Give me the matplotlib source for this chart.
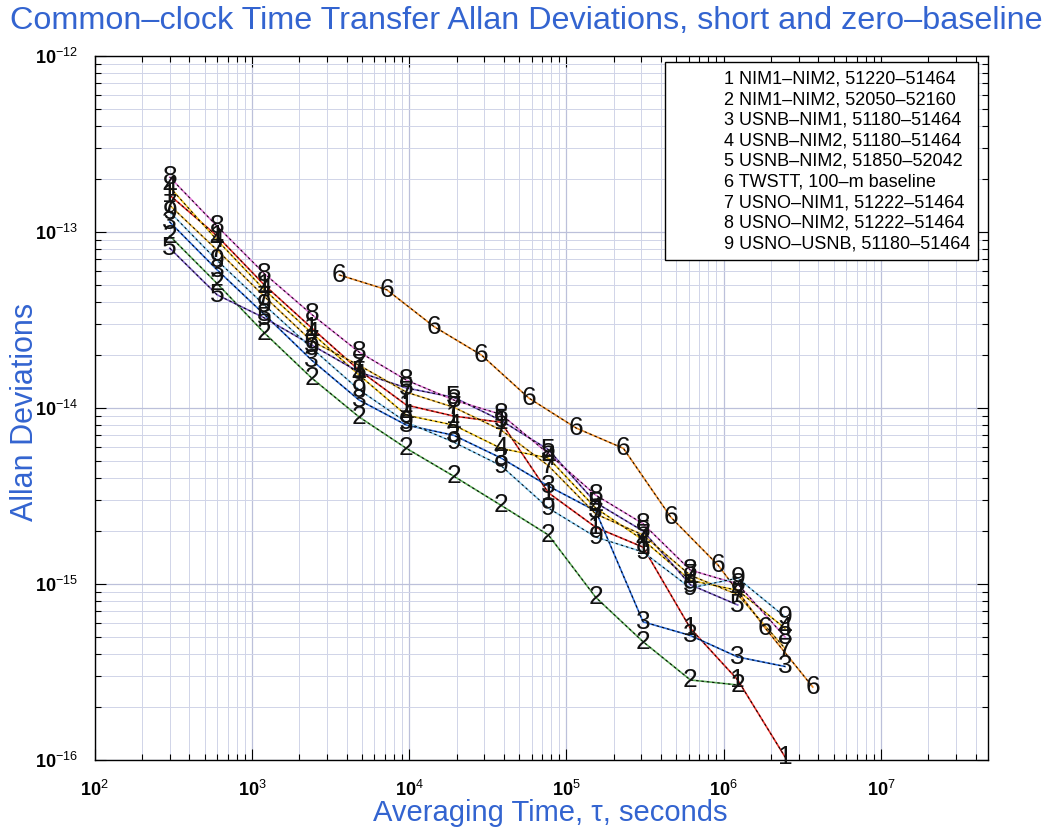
#
# Common-clock time transfer Allan deviations, short and zero-baseline
#
import matplotlib

matplotlib.use("Agg")
import matplotlib.pyplot as plt
import numpy as np
from matplotlib.lines import Line2D
from matplotlib.ticker import LogLocator, NullFormatter

plt.rcParams["font.family"] = ["Liberation Sans", "DejaVu Sans"]
plt.rcParams["mathtext.fontset"] = "custom"
plt.rcParams["mathtext.rm"] = "Liberation Sans"
plt.rcParams["mathtext.bf"] = "Liberation Sans:bold"

# averaging times, seconds
tau_gps = [300, 600, 1200, 2400, 4800, 9600, 19200, 38400, 76800,
           153600, 307200, 614400, 1228800, 2457600]
tau_twstt = [3600, 7200, 14400, 28800, 57600, 115200, 230400, 460800,
             921600, 1843200, 3686400]

# Allan deviations
adev_1 = [1.62e-13, 9.5e-14, 5.0e-14, 2.85e-14, 1.64e-14, 1.04e-14, 9.0e-15,
          8.3e-15, 3.3e-15, 2.1e-15, 1.62e-15, 5.6e-16, 2.85e-16, 1.04e-16]
adev_2 = [9.5e-14, 5.1e-14, 2.67e-14, 1.48e-14, 8.9e-15, 5.9e-15, 4.1e-15,
          2.8e-15, 1.9e-15, 8.4e-16, 4.7e-16, 2.85e-16, 2.67e-16]
adev_3 = [1.14e-13, 6.1e-14, 3.4e-14, 1.87e-14, 1.11e-14, 8.0e-15, 7.0e-15,
          5.2e-15, 3.6e-15, 2.6e-15, 6.1e-16, 5.1e-16, 3.85e-16, 3.4e-16]
adev_4 = [1.8e-13, 9.0e-14, 4.7e-14, 2.67e-14, 1.54e-14, 9.1e-15, 8.0e-15,
          5.9e-15, 5.2e-15, 2.7e-15, 1.78e-15, 1.05e-15, 9.2e-16, 5.6e-16]
adev_5 = [8.1e-14, 4.4e-14, 3.25e-14, 2.28e-14, 1.6e-14, 1.3e-14, 1.15e-14,
          8.5e-15, 5.8e-15, 2.9e-15, 2.0e-15, 9.9e-16, 7.6e-16]
adev_6 = [5.7e-14, 4.7e-14, 2.9e-14, 2.0e-14, 1.14e-14, 7.7e-15, 5.9e-15,
          2.4e-15, 1.28e-15, 5.6e-16, 2.6e-16]
adev_7 = [1.42e-13, 7.9e-14, 4.3e-14, 2.4e-14, 1.75e-14, 1.23e-14, 1.01e-14,
          7.5e-15, 4.7e-15, 2.5e-15, 1.9e-15, 1.12e-15, 8.7e-16, 4.3e-16]
adev_8 = [2.05e-13, 1.08e-13, 5.8e-14, 3.4e-14, 2.08e-14, 1.44e-14, 1.11e-14,
          9.2e-15, 5.5e-15, 3.2e-15, 2.2e-15, 1.2e-15, 1.0e-15, 5.0e-16]
adev_9 = [1.3e-13, 6.9e-14, 3.85e-14, 2.19e-14, 1.27e-14, 8.3e-15, 6.4e-15,
          4.7e-15, 2.7e-15, 1.85e-15, 1.52e-15, 9.5e-16, 1.08e-15, 6.5e-16]

labels = [
    "1 NIM1\u2013NIM2, 51220\u201351464",
    "2 NIM1\u2013NIM2, 52050\u201352160",
    "3 USNB\u2013NIM1, 51180\u201351464",
    "4 USNB\u2013NIM2, 51180\u201351464",
    "5 USNB\u2013NIM2, 51850\u201352042",
    "6 TWSTT, 100\u2013m baseline",
    "7 USNO\u2013NIM1, 51222\u201351464",
    "8 USNO\u2013NIM2, 51222\u201351464",
    "9 USNO\u2013USNB, 51180\u201351464",
]
xtick_values = [1e2, 1e3, 1e4, 1e5, 1e6, 1e7]
xtick_labels = [r"$\mathbf{10}^{2}$", r"$\mathbf{10}^{3}$", r"$\mathbf{10}^{4}$",
                r"$\mathbf{10}^{5}$", r"$\mathbf{10}^{6}$", r"$\mathbf{10}^{7}$"]
ytick_values = [1e-16, 1e-15, 1e-14, 1e-13, 1e-12]
ytick_labels = [r"$\mathbf{10}^{-16}$", r"$\mathbf{10}^{-15}$", r"$\mathbf{10}^{-14}$",
                r"$\mathbf{10}^{-13}$", r"$\mathbf{10}^{-12}$"]

series = [
    ("1", tau_gps, adev_1, "#e8302a"),
    ("2", tau_gps[:13], adev_2, "#5fae5a"),
    ("3", tau_gps, adev_3, "#2f6fdc"),
    ("4", tau_gps, adev_4, "#f0c420"),
    ("5", tau_gps[:13], adev_5, "#7a5cc0"),
    ("6", tau_twstt, adev_6, "#ec8c2a"),
    ("7", tau_gps, adev_7, "#e6b43a"),
    ("8", tau_gps, adev_8, "#e27ad6"),
    ("9", tau_gps, adev_9, "#86c8ee"),
]

blue = "#3364d0"

fig = plt.figure(figsize=(10.44, 8.3), dpi=100)
ax = fig.add_axes([0.0907, 0.0843, 0.8557, 0.8482])

for name, tau, adev, color in series:
    ax.plot(tau, adev, "-", color=color, lw=1.2, zorder=3)
    ax.plot(tau, adev, "--", color="k", lw=0.7, dashes=(2.5, 3), zorder=4)
    for t, a in zip(tau, adev):
        ax.text(t, a, name, ha="center", va="center", fontsize=19,
                color="#111111", zorder=5, clip_on=False)

ax.set_xscale("log")
ax.set_yscale("log")
ax.set_xlim(1e2, 4.8e7)
ax.set_ylim(1e-16, 1e-12)

ax.set_xticks(xtick_values)
ax.set_xticklabels(xtick_labels, fontsize=13)
ax.set_yticks(ytick_values)
ax.set_yticklabels(ytick_labels, fontsize=13)
ax.xaxis.set_minor_locator(LogLocator(base=10, subs=np.arange(2, 10), numticks=20))
ax.yaxis.set_minor_locator(LogLocator(base=10, subs=np.arange(2, 10), numticks=20))
ax.xaxis.set_minor_formatter(NullFormatter())
ax.yaxis.set_minor_formatter(NullFormatter())
ax.tick_params(which="both", direction="in", top=True, right=True, width=0.8)
ax.tick_params(which="major", length=8)
ax.tick_params(which="minor", length=4)
ax.tick_params(axis="x", which="major", pad=14)
ax.tick_params(axis="y", which="major", pad=12)

ax.grid(which="major", color="#bcc0da", lw=0.9)
ax.grid(which="minor", color="#d0d4e8", lw=0.7)
ax.set_axisbelow(True)
for s in ax.spines.values():
    s.set_linewidth(1.0)

ax.set_xlabel("Averaging Time, \u03c4, seconds", fontsize=21, color=blue)
ax.xaxis.set_label_coords(0.51, -0.055)
ax.set_ylabel("Allan Deviations", fontsize=22, color=blue)
ax.yaxis.set_label_coords(-0.061, 0.495)
fig.text(0.504, 0.975, "Common\u2013clock Time Transfer Allan Deviations, short and zero\u2013baseline",
         ha="center", va="center", fontsize=23.3, color=blue)

handles = [Line2D([], [], linestyle="none") for _ in labels]
leg = ax.legend(handles, labels, loc="upper right", bbox_to_anchor=(0.989, 0.991),
                borderaxespad=0, fontsize=13, handlelength=2.4, handletextpad=0.4,
                labelspacing=0.2, fancybox=False, framealpha=1, edgecolor="k",
                borderpad=0.45)
leg.get_frame().set_linewidth(1.0)

fig.savefig("out.png", dpi=100)
